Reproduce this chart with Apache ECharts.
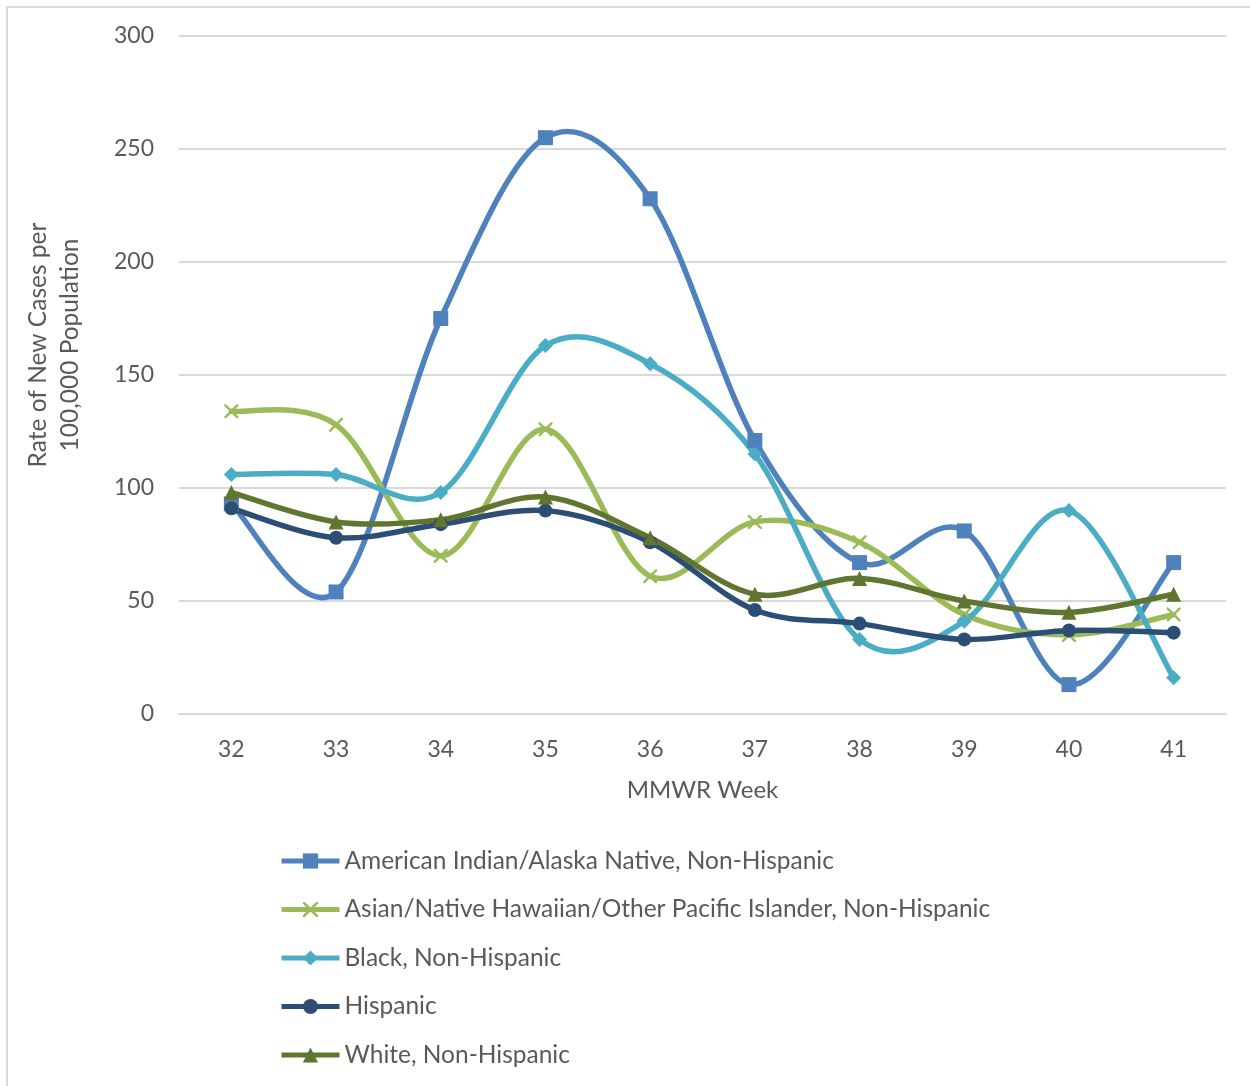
<!DOCTYPE html>
<html>
<head>
<meta charset="utf-8">
<script src="https://cdn.jsdelivr.net/npm/echarts@6/dist/echarts.min.js"></script>
<style>
  html, body { margin: 0; padding: 0; background: #fff; }
  #main { width: 1250px; height: 1086px; }
</style>
</head>
<body>
<div id="main"></div>
<script>
const weeks = ['32', '33', '34', '35', '36', '37', '38', '39', '40', '41'];

const aianValues = [93, 54, 175, 255, 228, 121, 67, 81, 13, 67];
const asianValues = [134, 128, 70, 126, 61, 85, 76, 44, 35, 44];
const blackValues = [106, 106, 98, 163, 155, 115, 33, 41, 90, 16];
const hispanicValues = [91, 78, 84, 90, 76, 46, 40, 33, 37, 36];
const whiteValues = [98, 85, 86, 96, 78, 53, 60, 50, 45, 53];

const seriesNames = [
    'American Indian/Alaska Native, Non-Hispanic',
    'Asian/Native Hawaiian/Other Pacific Islander, Non-Hispanic',
    'Black, Non-Hispanic',
    'Hispanic',
    'White, Non-Hispanic'
];

const font = 'Lato, "Open Sans", sans-serif';
const textGray = '#595959';
const lineWidth = 5.5;

// thin X shape for the Asian series marker
const xMark = 'path://M0,0 L2.5,0 L10,7.5 L17.5,0 L20,0 L20,2.5 L12.5,10 L20,17.5 L20,20 L17.5,20 L10,12.5 L2.5,20 L0,20 L0,17.5 L7.5,10 L0,2.5 Z';

// Excel-style smoothed line: one Catmull-Rom segment per data point,
// positioned with the axes' own coord()
function curveRenderer(values, color) {
    return function (params, api) {
        const i = params.dataIndex;
        const last = values.length - 1;
        if (i >= last) return null;
        const pt = k => {
            const j = Math.max(0, Math.min(last, k));
            return api.coord([j, values[j]]);
        };
        const p0 = pt(i - 1), p1 = pt(i), p2 = pt(i + 1), p3 = pt(i + 2);
        return {
            type: 'bezierCurve',
            shape: {
                x1: p1[0], y1: p1[1],
                x2: p2[0], y2: p2[1],
                cpx1: p1[0] + (p2[0] - p0[0]) / 6,
                cpy1: p1[1] + (p2[1] - p0[1]) / 6,
                cpx2: p2[0] - (p3[0] - p1[0]) / 6,
                cpy2: p2[1] - (p3[1] - p1[1]) / 6
            },
            style: { stroke: color, lineWidth: lineWidth, fill: null, lineCap: 'round' }
        };
    };
}

function makeSeries(name, data, color, symbol, size) {
    return [{
        name: name + ' (curve)',
        type: 'custom',
        data: data,
        renderItem: curveRenderer(data, color),
        silent: true
    }, {
        name: name,
        type: 'line',
        data: data,
        symbol: symbol,
        symbolSize: size,
        showAllSymbol: true,
        lineStyle: { color: color, width: lineWidth, opacity: 0 },
        itemStyle: { color: color, opacity: 1 },
        emphasis: { disabled: true }
    }];
}

let myChart = echarts.init(document.getElementById('main'));

let option = {
    animation: false,
    backgroundColor: '#fff',
    graphic: [{
        type: 'rect',
        shape: { x: 7, y: 7, width: 1400, height: 1200 },
        style: { fill: 'none', stroke: '#d9d9d9', lineWidth: 2 },
        silent: true
    }],
    grid: {
        left: 179,
        right: 24,
        top: 36,
        bottom: 372
    },
    xAxis: {
        type: 'category',
        data: weeks,
        name: 'MMWR Week',
        nameLocation: 'middle',
        nameGap: 64,
        nameTextStyle: { fontFamily: font, fontSize: 24, color: textGray },
        axisLine: { lineStyle: { color: '#d9d9d9', width: 2 } },
        axisTick: { show: false },
        axisLabel: { fontFamily: font, fontSize: 23, color: textGray, margin: 24 }
    },
    yAxis: {
        type: 'value',
        min: 0,
        max: 300,
        interval: 50,
        name: 'Rate of New Cases per\n100,000 Population',
        nameLocation: 'middle',
        nameGap: 93,
        nameTextStyle: {
            fontFamily: font, fontSize: 24.5, color: textGray,
            lineHeight: 32, padding: [0, 0, 0, 60]
        },
        axisLine: { show: false },
        axisTick: { show: false },
        axisLabel: { fontFamily: font, fontSize: 23, color: textGray, margin: 25 },
        splitLine: { lineStyle: { color: '#d9d9d9', width: 2 } }
    },
    legend: {
        orient: 'vertical',
        left: 274,
        top: 843,
        itemWidth: 58,
        itemHeight: 19,
        itemGap: 22.5,
        lineStyle: { width: 5, opacity: 1 },
        textStyle: { fontFamily: font, fontSize: 24.5, color: textGray, lineHeight: 26 },
        data: seriesNames
    },
    series: [].concat(
        makeSeries(seriesNames[0], aianValues, '#4F81BD', 'rect', 15),
        makeSeries(seriesNames[1], asianValues, '#9BBB59', xMark, 14),
        makeSeries(seriesNames[2], blackValues, '#4BACC6', 'diamond', 15),
        makeSeries(seriesNames[3], hispanicValues, '#2C4D75', 'circle', 14),
        makeSeries(seriesNames[4], whiteValues, '#5F7530', 'triangle', 15)
    )
};

myChart.setOption(option);
</script>
</body>
</html>
